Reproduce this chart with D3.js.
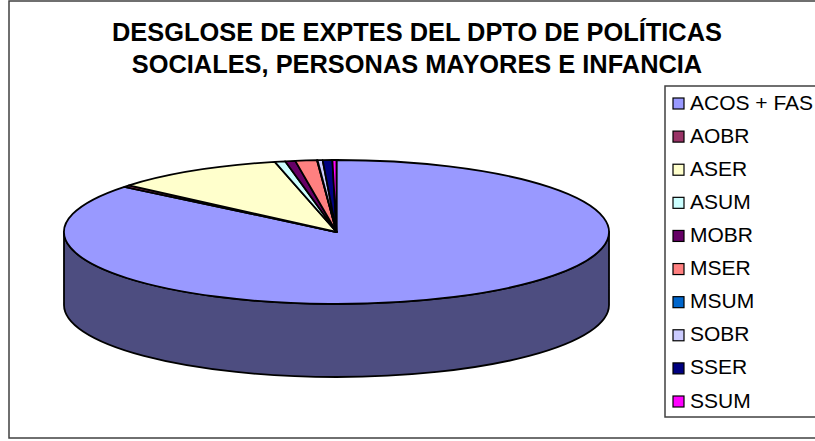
<!DOCTYPE html>
<html><head><meta charset="utf-8">
<script src="https://cdn.jsdelivr.net/npm/d3@7"></script>
<style>html,body{margin:0;padding:0;background:#fff;overflow:hidden}svg{display:block}text{font-family:"Liberation Sans",Arial,sans-serif;fill:#000}</style>
</head><body><svg id="c" width="815" height="441"></svg>
<script>
const titleLines=["DESGLOSE DE EXPTES DEL DPTO DE POLÍTICAS","SOCIALES, PERSONAS MAYORES E INFANCIA"];
const categories=["ACOS + FAS","AOBR","ASER","ASUM","MOBR","MSER","MSUM","SOBR","SSER","SSUM"];
const values=[85.9,0.42,10.15,0.62,0.6,1.28,0.03,0.3,0.57,0.24];
const colors=["#9999FF","#993366","#FFFFCC","#CCFFFF","#660066","#FF8080","#0066CC","#CCCCFF","#000080","#FF00FF"];
const wallColor="#4d4d80";

const svg=d3.select("#c");
svg.append("rect").attr("x",9).attr("y",1).attr("width",830).attr("height",437)
  .attr("fill","#fff").attr("stroke","#404040").attr("stroke-width",1.5);

svg.selectAll("text.title").data(titleLines).join("text").attr("class","title")
  .attr("x",417).attr("y",(d,i)=>41+i*32).attr("text-anchor","middle")
  .attr("font-size",25.4).attr("font-weight","bold").text(d=>d);

const cx=336.5,cy=232,rx=272.5,ry=72,depth=73;
const pie=d3.pie().sort(null).startAngle(0).endAngle(2*Math.PI)(values);
const g=svg.append("g").attr("transform",`translate(${cx},${cy}) scale(1,${ry/rx})`);
const wy=depth*rx/ry;
const wall=d3.path();
wall.moveTo(-rx,0);
wall.lineTo(-rx,wy);
wall.arc(0,wy,rx,Math.PI,0,true);
wall.lineTo(rx,0);
wall.arc(0,0,rx,0,Math.PI,false);
wall.closePath();
g.append("path").attr("d",wall.toString()).attr("fill",wallColor)
  .attr("stroke","#000").attr("stroke-width",1.8).attr("stroke-linejoin","round")
  .attr("vector-effect","non-scaling-stroke");
const arc=d3.arc().innerRadius(0).outerRadius(rx);
g.selectAll("path.s").data(pie).join("path").attr("class","s")
  .attr("d",arc).attr("fill",(d,i)=>colors[i])
  .attr("stroke","#000").attr("stroke-width",1.8).attr("stroke-linejoin","round")
  .attr("vector-effect","non-scaling-stroke");

svg.append("rect").attr("x",665).attr("y",86).attr("width",170).attr("height",331)
  .attr("fill","#fff").attr("stroke","#404040").attr("stroke-width",1.5);
const y=d3.scalePoint().domain(categories).range([103,401]);
const lg=svg.selectAll("g.l").data(categories).join("g").attr("class","l")
  .attr("transform",d=>`translate(0,${y(d)})`);
lg.append("rect").attr("x",673).attr("y",-5).attr("width",11).attr("height",11)
  .attr("fill",(d,i)=>colors[i]).attr("stroke","#000").attr("stroke-width",1.2);
lg.append("text").attr("x",690).attr("y",6.5).attr("font-size",21).text(d=>d);
</script></body></html>
